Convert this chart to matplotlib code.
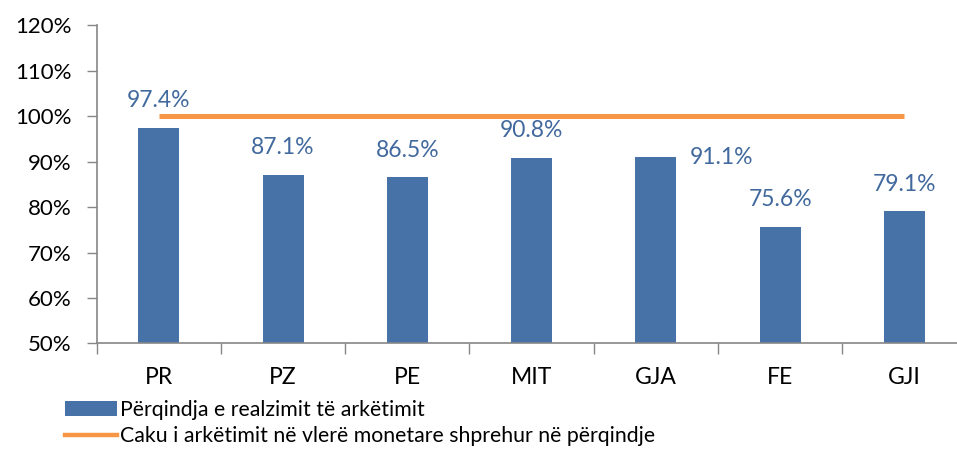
import matplotlib.pyplot as plt
from matplotlib.patches import Patch
from matplotlib.lines import Line2D
from matplotlib.ticker import FuncFormatter

# Data
categories = ['PR', 'PZ', 'PE', 'MIT', 'GJA', 'FE', 'GJI']
realizimi = [97.4, 87.1, 86.5, 90.8, 91.1, 75.6, 79.1]
caku = [100, 100, 100, 100, 100, 100, 100]

BLUE = '#4672A8'
ORANGE = '#F79646'
LABEL_BLUE = '#41699D'
GRAY = '#868686'

plt.rcParams['font.family'] = ['Lato', 'DejaVu Sans']

fig = plt.figure(figsize=(9.57, 4.49), dpi=100)
ax = fig.add_axes([0.101, 0.235, 0.909, 0.709])

x = list(range(len(categories)))
ax.bar(x, realizimi, width=0.33, color=BLUE, bottom=0, zorder=2)
ax.plot(x, caku, color=ORANGE, linewidth=3.6, solid_capstyle='butt', zorder=3)

# data labels (GJA sits to the right of its bar)
for i, v in enumerate(realizimi):
    if categories[i] == 'GJA':
        off = (47, -1)
    else:
        off = (0, 19.5)
    ax.annotate(f'{v:.1f}%', (i, v), xytext=off, textcoords='offset points',
                ha='center', va='center', fontsize=16.5, color=LABEL_BLUE)

ax.set_xlim(-0.5, len(categories) - 0.5)
ax.set_ylim(50, 120)
ax.set_yticks(range(50, 121, 10))
ax.yaxis.set_major_formatter(FuncFormatter(lambda v, p: f'{v:.0f}%'))

ax.set_xticks([i + 0.5 for i in range(-1, len(categories))], minor=False)
ax.set_xticklabels([])
ax.set_xticks(x, minor=True)
ax.set_xticklabels(categories, minor=True)

ax.tick_params(axis='x', which='major', length=8, width=1, color=GRAY, direction='out')
ax.tick_params(axis='x', which='minor', length=0, pad=17, labelsize=16.5)
ax.tick_params(axis='y', length=7, width=1, color=GRAY, direction='out', pad=11, labelsize=16)

for s in ['top', 'right']:
    ax.spines[s].set_visible(False)
for s in ['left', 'bottom']:
    ax.spines[s].set_color(GRAY)
    ax.spines[s].set_linewidth(1.2)

handles = [Patch(facecolor=BLUE, edgecolor='none'),
           Line2D([0], [0], color=ORANGE, linewidth=3.2)]
labels = ['Përqindja e realzimit të arkëtimit',
          'Caku i arkëtimit në vlerë monetare shprehur në përqindje']
fig.legend(handles, labels, loc='lower left', bbox_to_anchor=(0.059, -0.013),
           frameon=False, fontsize=15.3, handlelength=2.45, handleheight=0.65,
           handletextpad=0.15, labelspacing=0.3, borderaxespad=0)

fig.savefig('out.png', dpi=100)
